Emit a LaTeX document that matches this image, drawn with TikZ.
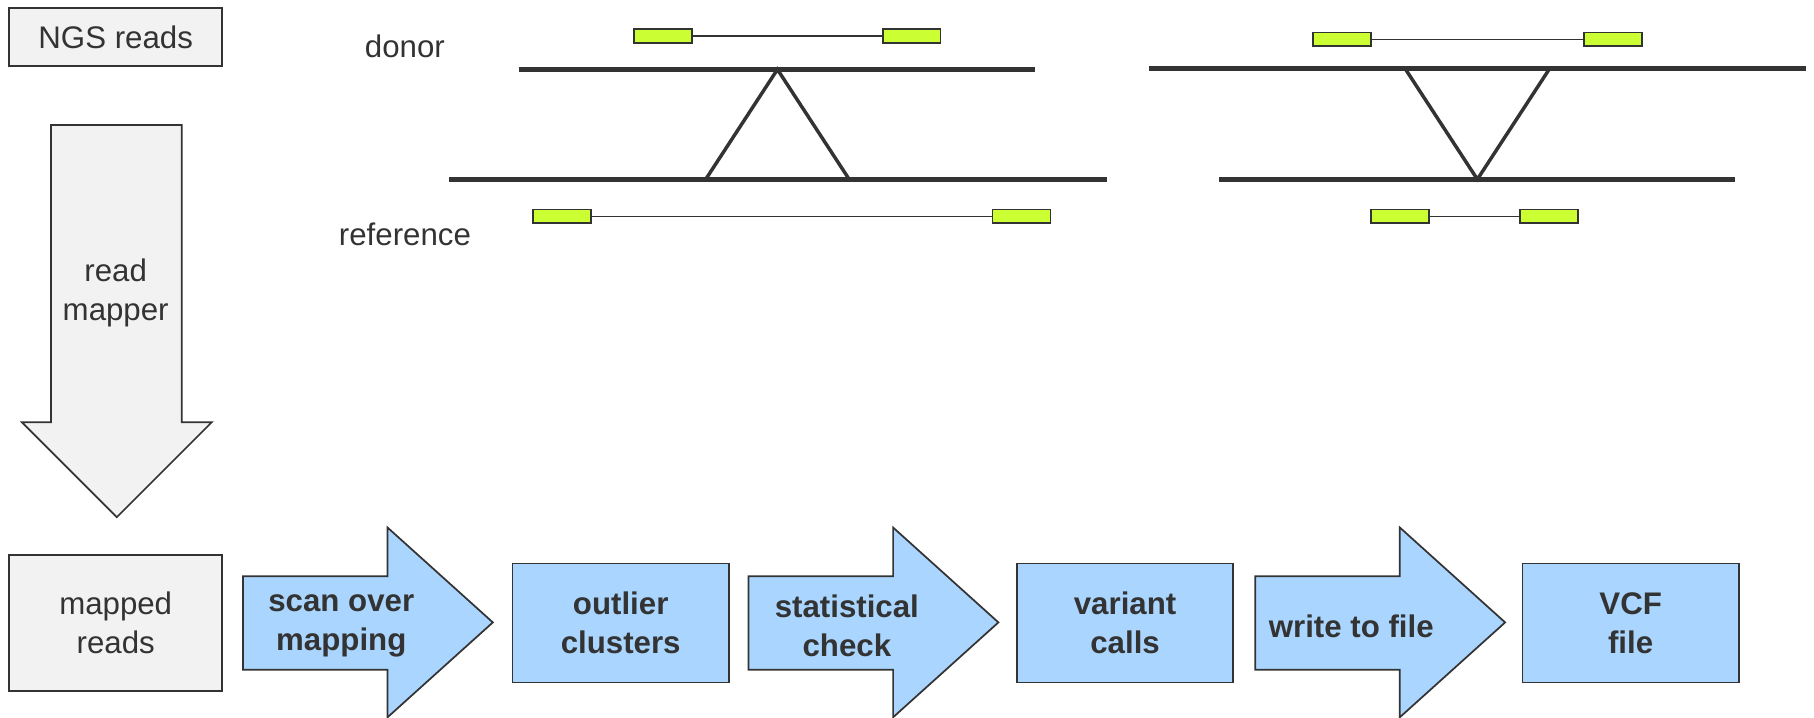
\documentclass[tikz,border=0pt]{standalone}
\usepackage{fontspec}
\setmainfont{Liberation Sans}
\definecolor{graybg}{HTML}{F2F2F2}
\definecolor{edge}{HTML}{333333}
\definecolor{bluebg}{HTML}{AAD5FF}
\definecolor{readgreen}{HTML}{CCFF33}
\tikzset{
 graybox/.style={draw=edge, fill=graybg, line width=0.75pt},
 bluebox/.style={draw=edge, fill=bluebg, line width=0.75pt},
 lbl/.style={text=edge, font=\fontsize{13.5}{16.8}\selectfont, align=center, inner sep=0pt},
 blbl/.style={text=edge, font=\bfseries\fontsize{13.5}{16.8}\selectfont, align=center, inner sep=0pt},
 chrom/.style={draw=edge, line width=2pt},
 indel/.style={draw=edge, line width=1.5pt, line join=miter},
 readbox/.style={draw=edge, fill=readgreen, line width=0.75pt, minimum width=25pt, minimum height=6pt, inner sep=0pt},
 readlink/.style={draw=edge, line width=0.7pt},
}
\begin{document}
\begin{tikzpicture}[x=0.5pt,y=-0.5pt]
\useasboundingbox (0,0) rectangle (1568,620);
% left column
\node[graybox, lbl, minimum width=92pt, minimum height=25pt] (ngs) at (100,32) {NGS reads};
\draw[graybox] (44,108) -- (157,108) -- (157,365) -- (183,365) -- (101,447) -- (19,365) -- (44,365) -- cycle;
\node[lbl] (mapper) at (100,253) {read\\mapper};
\node[graybox, lbl, minimum width=92pt, minimum height=58.5pt] (mapped) at (100,538.5) {mapped\\reads};
% bottom row
\draw[bluebox] (210,498) -- (335,498) -- (335,456) -- (426,538) -- (335,620) -- (335,579) -- (210,579) -- cycle;
\node[blbl] (scan) at (295,541) {scan over\\mapping};
\node[bluebox, blbl, minimum width=93.5pt, minimum height=51.5pt] (outlier) at (536.5,538.5) {outlier\\clusters};
\draw[bluebox] (647,498) -- (772,498) -- (772,456) -- (863,538) -- (772,620) -- (772,579) -- (647,579) -- cycle;
\node[blbl] (stat) at (732,541) {statistical\\check};
\node[bluebox, blbl, minimum width=93.5pt, minimum height=51.5pt] (variant) at (972.5,538.5) {variant\\calls};
\draw[bluebox] (1085,498) -- (1210,498) -- (1210,456) -- (1301,538) -- (1210,620) -- (1210,579) -- (1085,579) -- cycle;
\node[blbl] (write) at (1168,541) {write to file};
\node[bluebox, blbl, minimum width=93.5pt, minimum height=51.5pt] (vcf) at (1409.5,538.5) {VCF\\file};
% labels
\node[lbl] (donor) at (350,40) {donor};
\node[lbl] (reflbl) at (350,203) {reference};
% left insertion panel
\coordinate (dl1) at (449,60); \coordinate (dl2) at (895,60);
\coordinate (rl1) at (388,155); \coordinate (rl2) at (957,155);
\draw[chrom] (dl1) -- (dl2);
\draw[chrom] (rl1) -- (rl2);
\coordinate (apex) at (672,60); \coordinate (f1) at (610,155); \coordinate (f2) at (734,155);
\draw[indel] (f1) -- (apex) -- (f2);
\node[readbox] (dra) at (573,31) {};
\node[readbox] (drb) at (788,31) {};
\draw[readlink] (dra.east) -- (drb.west);
\node[readbox] (rra) at (486,187) {};
\node[readbox] (rrb) at (883,187) {};
\draw[readlink] (rra.east) -- (rrb.west);
% right deletion panel
\coordinate (dr1) at (993,59); \coordinate (dr2) at (1561,59);
\coordinate (rr1) at (1054,155); \coordinate (rr2) at (1500,155);
\draw[chrom] (dr1) -- (dr2);
\draw[chrom] (rr1) -- (rr2);
\coordinate (t1) at (1215,60); \coordinate (t2) at (1339,60); \coordinate (bot) at (1277,155);
\draw[indel] (t1) -- (bot) -- (t2);
\node[readbox] (dsa) at (1160,34) {};
\node[readbox] (dsb) at (1394,34) {};
\draw[readlink] (dsa.east) -- (dsb.west);
\node[readbox] (rsa) at (1210,187) {};
\node[readbox] (rsb) at (1339,187) {};
\draw[readlink] (rsa.east) -- (rsb.west);
\end{tikzpicture}
\end{document}
